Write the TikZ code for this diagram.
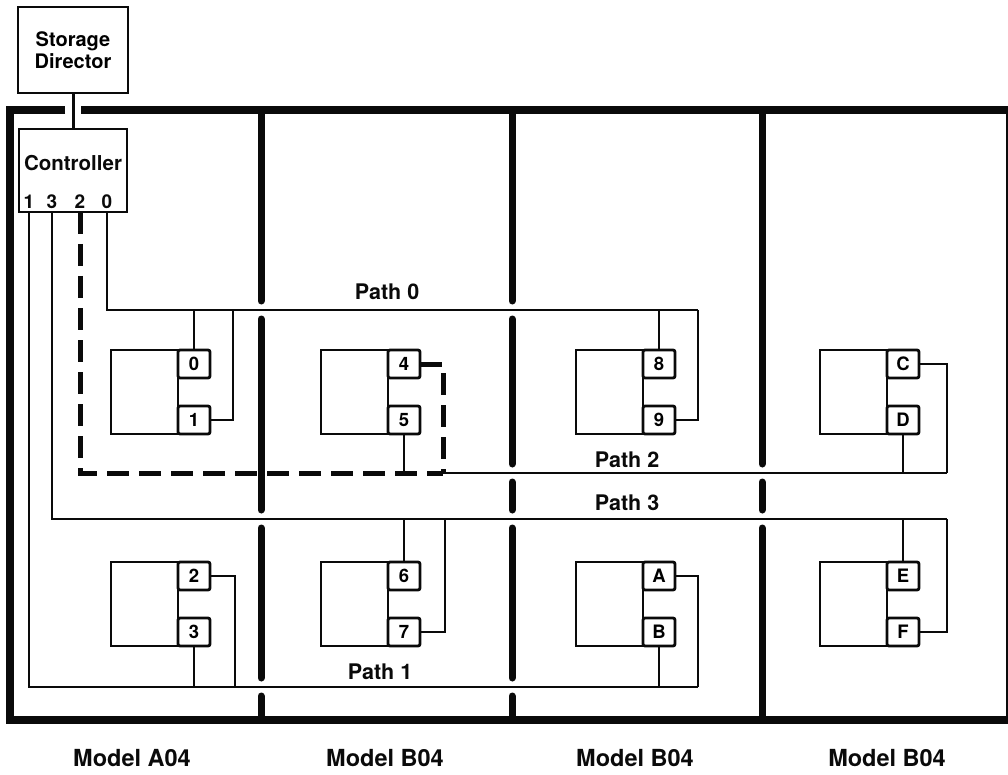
\documentclass[tikz,border=0pt]{standalone}
\usepackage{fontspec}
\setmainfont{TeX Gyre Heros}
\usetikzlibrary{positioning}
\definecolor{ink}{HTML}{0A0A0A}

\begin{document}
\begin{tikzpicture}[x=1pt,y=-1pt,
    box/.style={draw=ink,line width=2.8pt,inner sep=0pt,outer sep=0pt},
    drive/.style={box,minimum width=67pt,minimum height=84pt},
    port/.style={box,rounded corners=2pt,minimum width=32pt,minimum height=28pt,
      font=\fontsize{18.5}{18.5}\selectfont\bfseries},
    bus/.style={draw=ink,line width=2.4pt},
    busdash/.style={draw=ink,line width=5pt,dash pattern=on 22pt off 10pt},
    wall/.style={draw=ink,line width=7pt,line cap=round},
    cabinet/.style={draw=ink,line width=8pt},
    lbl/.style={text=ink,inner sep=0pt,font=\fontsize{21.5}{22}\selectfont\bfseries},
    model/.style={lbl,font=\fontsize{23.5}{24}\selectfont\bfseries}]
  \useasboundingbox (0,0) rectangle (1008,775);

  % director and controller
  \node[box,minimum width=110pt,minimum height=86pt,align=center,
    font=\fontsize{20}{22}\selectfont\bfseries] (sd) at (73,50) {Storage\\Director};
  \node[box,minimum width=108pt,minimum height=83pt] (ctrl) at (73,170.5) {};
  \node[lbl,font=\fontsize{20.5}{21}\selectfont\bfseries] (ctrlname) at (73,163) {Controller};
  \foreach \n/\px in {1/29,3/52,2/80,0/107}
    \node[lbl,font=\fontsize{19}{19}\selectfont\bfseries] (cp\n) at (\px,202) {\n};
  \draw[ink,line width=3pt] (sd) -- (sd |- ctrl.north);

  % cabinet outline and walls between models
  \draw[cabinet] (65,110) -| (10,720) -| (1010,110) -- (81,110);
  \foreach \x/\ya/\yb in {261/110/301, 261/319/510, 261/528/678, 261/696/720,
      512/110/301, 512/319/464, 512/482/510, 512/528/678, 512/696/720,
      762/110/464, 762/482/510, 762/528/720}
    \draw[wall] (\x,\ya) -- (\x,\yb);

  % drives with two ports each
  \foreach \cx/\cy/\a/\b in {111/350/0/1, 321/350/4/5, 576/350/8/9, 820/350/C/D,
      111/562/2/3, 321/562/6/7, 576/562/A/B, 820/562/E/F} {
    \node[drive,anchor=north west] (drv\a) at (\cx,\cy) {};
    \node[port,anchor=north west] (port\a) at (drv\a.north east) {\a};
    \node[port,anchor=south west] (port\b) at (drv\a.south east) {\b};
  }

  \coordinate (b0l) at (233,310);
  \coordinate (b0e) at (698,310);
  \coordinate (b2m) at (443,473);
  \coordinate (b2e) at (947,473);
  \coordinate (b3l) at (445,519);
  \coordinate (b3e) at (947,519);
  \coordinate (b1l) at (235,687);
  \coordinate (b1e) at (698,687);

  % path 0
  \draw[bus] (cp0 |- ctrl.south) |- (b0e);
  \draw[bus] (port0.north) -- (port0.north |- b0e);
  \draw[bus] (port1.east) -| (b0l);
  \draw[bus] (port8.north) -- (port8.north |- b0e);
  \draw[bus] (port9.east) -| (b0e);
  % path 2
  \draw[busdash] (cp2 |- ctrl.south) |- (b2m);
  \draw[busdash] (port4.east) -| (b2m);
  \draw[bus] (b2m) -- (b2e);
  \draw[bus] (port5.south) -- (port5.south |- b2m);
  \draw[bus] (portD.south) -- (portD.south |- b2e);
  \draw[bus] (portC.east) -| (b2e);
  % path 3
  \draw[bus] (cp3 |- ctrl.south) |- (b3e);
  \draw[bus] (port6.north) -- (port6.north |- b3e);
  \draw[bus] (port7.east) -| (b3l);
  \draw[bus] (portE.north) -- (portE.north |- b3e);
  \draw[bus] (portF.east) -| (b3e);
  % path 1
  \draw[bus] (cp1 |- ctrl.south) |- (b1e);
  \draw[bus] (port3.south) -- (port3.south |- b1e);
  \draw[bus] (port2.east) -| (b1l);
  \draw[bus] (portB.south) -- (portB.south |- b1e);
  \draw[bus] (portA.east) -| (b1e);

  \node[lbl] (path0) at (387,292) {Path 0};
  \node[lbl] (path2) at (627,460) {Path 2};
  \node[lbl] (path3) at (627,503) {Path 3};
  \node[lbl] (path1) at (380,672) {Path 1};

  \node[model] (mA) at (132,758) {Model A04};
  \node[model] (mB1) at (385,758) {Model B04};
  \node[model] (mB2) at (635,758) {Model B04};
  \node[model] (mB3) at (887,758) {Model B04};
\end{tikzpicture}
\end{document}
